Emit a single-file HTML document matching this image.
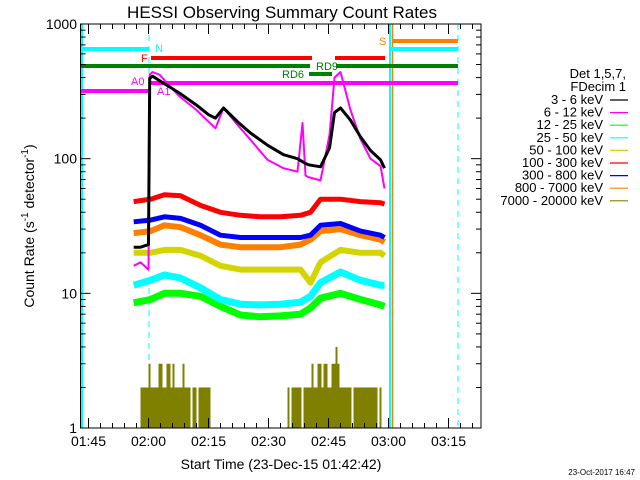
<!DOCTYPE html>
<html><head><meta charset="utf-8"><style>
html,body{margin:0;padding:0;background:#fff}
svg{display:block}
text{font-family:"Liberation Sans",sans-serif;}
</style></head><body>
<svg id="c" width="640" height="480" viewBox="0 0 640 480" xmlns="http://www.w3.org/2000/svg">
<rect width="640" height="480" fill="#fff"/>
<text x="282" y="18" font-size="17" text-anchor="middle">HESSI Observing Summary Count Rates</text>
<text transform="translate(34,226) rotate(-90)" font-size="14" text-anchor="middle">Count Rate (s<tspan font-size="10" dy="-6">-1</tspan><tspan dy="6"> detector</tspan><tspan font-size="10" dy="-6">-1</tspan><tspan dy="6">)</tspan></text>
<text x="281" y="469" font-size="14" text-anchor="middle">Start Time (23-Dec-15 01:42:42)</text>
<text x="635" y="475" font-size="8" text-anchor="end">23-Oct-2017 16:47</text>
<g id="plot"></g>
<g id="legend"></g>
</svg>
<script>
// time in minutes since 01:43 ; values in counts/s
const tickLabels=["01:45","02:00","02:15","02:30","02:45","03:00","03:15"];
const tickMinutes=[2,17,32,47,62,77,92];
const yTickValues=[1,10,100,1000];
const yTickLabels=["1","10","100","1000"];
const seriesNames=["3 - 6 keV","6 - 12 keV","12 - 25 keV","25 - 50 keV","50 - 100 keV","100 - 300 keV","300 - 800 keV","800 - 7000 keV","7000 - 20000 keV"];
const seriesColors=["#000","#ff00ff","#00ff00","#00ffff","#d4d400","#ff0000","#0000ff","#ff8000","#808000"];
const tLow=[13.3,17.5,21,25,30,35,40,45,50,55,57.5,60,65,70,75,76];
const lowRed=[48,50,54,53,45,40,38,37,37,38,40,50,50,48,47,46];
const lowBlue=[34,35,37,36,32,27,26,26,26,26,27,32,33,29,27,26];
const lowOrange=[28,29,32,31,27,23,22,22,22,23,25,29,30,27,25,24];
const lowYellow=[20,20,21,21,19,16,15,15,15,15,12,17,21,20,20,19];
const lowCyan=[11.5,12.5,13.7,13,11,9,8.3,8.2,8.3,8.6,9.5,12,14.4,12.5,11.5,11.5];
const lowGreen=[8.5,9,10,10,9.5,8,6.9,6.7,6.8,7,7.8,9.2,10,9,8.2,8];
const tHi=[17.3,18,19.75,24.75,29,32,33.75,35.75,39.25,42.5,46.75,50.75,54.25,55.5,56.25,57,60,62.25,63.5,65,67.5,70,72.5,75,76];
const hiBlack=[395,410,380,307,250,212,200,238,188,155,126,107,100,95,92,90,87,120,220,238,193,145,115,98,85];
const hiMag=[420,440,420,290,230,188,168,238,178,138,98,85,80,184,75,73,69,150,400,440,230,140,100,88,60];
const preBlack=[22,22,23];
const preMag=[16,17,15];
const tPre=[13.3,15,17];
// 7000-20000 keV counts, 2-px bins (0.5 min)
const tHist0=15;
const hist1=[2,2,2,2,3,2,2,2,2,3,3,2,2,3,3,2,3,2,2,2,2,3,2,2,2,1,2,2,1,2,2,2,2,2,2,1];
const tHist1=51.75;
const hist2=[2,1,2,2,2,2,2,1,2,2,2,2,3,2,2,3,3,2,3,3,2,2,3,3,4,3,2,2,2,2,2,2,1,2,2,2,2,2,2,2,2,2,2,2,2,1,2];
const xL=80.5,xR=481,yT=24,yB=428;
const X=m=>xL+m*4;
const Y=v=>yB-(Math.log10(v))*((yB-yT)/3);
const P=document.getElementById('plot');
const NS="http://www.w3.org/2000/svg";
function el(tag,a,parent){const e=document.createElementNS(NS,tag);for(const k in a)e.setAttribute(k,a[k]);(parent||P).appendChild(e);return e;}
let e;
e=el('line',{x1:149,y1:yT,x2:149,y2:yB,stroke:'#00ffff','stroke-dasharray':'6,5','stroke-width':1});


e=el('line',{x1:82,y1:yT,x2:82,y2:yB,stroke:'#00ffff','stroke-width':2});


e=el('line',{x1:390,y1:yT,x2:390,y2:yB,stroke:'#00ffff','stroke-width':2});


e=el('line',{x1:392.5,y1:yT,x2:392.5,y2:yB,stroke:'#ff8000','stroke-width':1.5});


e=el('line',{x1:458,y1:yT,x2:458,y2:yB,stroke:'#00ffff','stroke-dasharray':'6,5','stroke-width':1});


const bars=[[81,149,49,'#00ffff'],[391,458,49,'#00ffff'],[151,312,58,'#ff0000'],[335,385,58,'#ff0000'],[81,310,66,'#008000'],[336,458,66,'#008000'],[309,332,74,'#008000'],[81,150,91,'#ff00ff'],[150,458,83,'#ff00ff'],[392,458,41,'#ff8000']];
bars.forEach(b=>{const r=el('line',{x1:b[0],y1:b[2],x2:b[1],y2:b[2],stroke:b[3],'stroke-width':4});

});
const flbl=[[155,52,'N','#00ffff'],[141,62,'F','#ff0000'],[316,70,'RD9','#008000'],[282,78,'RD6','#008000'],[131,85,'A0','#ff00ff'],[157,95,'A1','#ff00ff'],[379,45,'S','#ff8000']];
flbl.forEach(f=>{const t=el('text',{x:f[0],y:f[1],fill:f[3],'font-size':11});t.textContent=f[2];

});
function hist(arr,t0){arr.forEach((v,i)=>{if(v>1){const r=el('rect',{x:X(t0+i*0.5),y:Y(v),width:2,height:yB-Y(v),fill:'#808000'});

}});}
hist(hist1,tHist0);hist(hist2,tHist1);
function line(ts,vs,color,w,name){const d=ts.map((t,i)=>(i?'L':'M')+X(t).toFixed(1)+','+Y(vs[i]).toFixed(1)).join('');
const p=el('path',{d:d,fill:'none',stroke:color,'stroke-width':w,'stroke-linejoin':'round'});

}
line(tLow,lowGreen,'#00ff00',7,'series-12-25');
line(tLow,lowCyan,'#00ffff',7,'series-25-50');
line(tLow,lowYellow,'#d4d400',6,'series-50-100');
line(tLow,lowOrange,'#ff8000',6,'series-800-7000');
line(tLow,lowBlue,'#0000ff',5,'series-300-800');
line(tLow,lowRed,'#ff0000',5,'series-100-300');
line(tPre.concat(tHi),preMag.concat(hiMag),'#ff00ff',2,'series-6-12');
line(tPre.concat(tHi),preBlack.concat(hiBlack),'#000',3,'series-3-6');
const ax=el('rect',{x:xL,y:yT,width:xR-xL,height:yB-yT,fill:'none',stroke:'#000','stroke-width':1});


for(let m=2;m<=98;m+=3){const big=tickMinutes.includes(m);const h=big?10:5;
el('line',{x1:X(m),y1:yB,x2:X(m),y2:yB-h,stroke:'#000'});el('line',{x1:X(m),y1:yT,x2:X(m),y2:yT+h,stroke:'#000'});}
tickLabels.forEach((l,i)=>{const t=el('text',{x:X(tickMinutes[i]),y:446,'font-size':14,'text-anchor':'middle'});t.textContent=l;

});
for(let d=0;d<3;d++)for(let k=1;k<=9;k++){const v=k*Math.pow(10,d);const y=Y(v);const h=k==1?10:5;
el('line',{x1:xL,y1:y,x2:xL+h,y2:y,stroke:'#000'});el('line',{x1:xR,y1:y,x2:xR-h,y2:y,stroke:'#000'});}
yTickValues.forEach((v,i)=>{const t=el('text',{x:77,y:Y(v)+5,'font-size':14,'text-anchor':'end'});t.textContent=yTickLabels[i];

});
const L=document.getElementById('legend');
[['Det 1,5,7,',78],['FDecim 1',91]].forEach(a=>{const t=el('text',{x:626,y:a[1],'font-size':13,'text-anchor':'end'},L);t.textContent=a[0];

});
seriesNames.forEach((n,i)=>{const y=104+i*12.6;const t=el('text',{x:603,y:y,'font-size':13,'text-anchor':'end'},L);t.textContent=n;


const ln=el('line',{x1:610,y1:y-4,x2:628,y2:y-4,stroke:seriesColors[i],'stroke-width':1.2},L);

});
</script>
</body></html>
